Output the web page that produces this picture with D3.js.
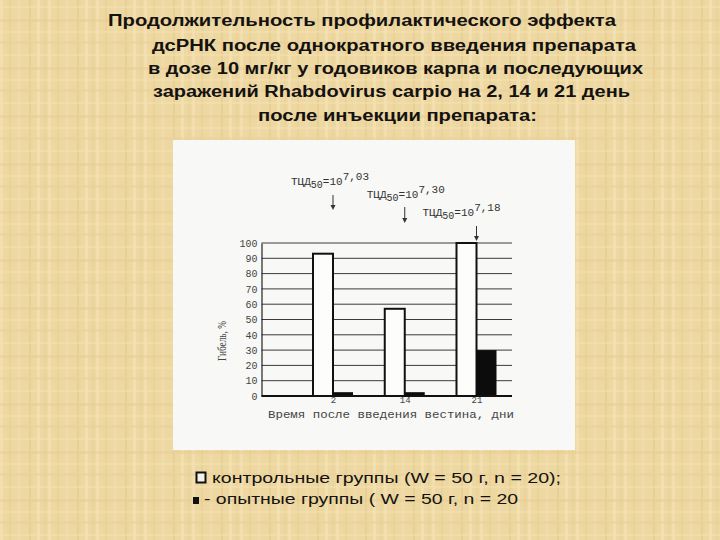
<!DOCTYPE html>
<html>
<head>
<meta charset="utf-8">
<script src="https://cdn.jsdelivr.net/npm/d3@7"></script>
<style>
  body { margin: 0; background: #eed8a2; }
  svg { display: block; }
</style>
</head>
<body>
<svg id="chart" width="720" height="540"></svg>
<script>

// data
const days = ["2", "14", "21"];
const control = [93, 57, 100];
const experimental = [2.5, 2.5, 30];
const tcdPower = ["7,03", "7,30", "7,18"];
const yTicks = [0, 10, 20, 30, 40, 50, 60, 70, 80, 90, 100];

const titleLines = [
	"Продолжительность профилактического эффекта",
	"дсРНК после однократного введения препарата",
	"в дозе 10 мг/кг у годовиков карпа и последующих",
	"заражений  Rhabdovirus carpio на 2, 14 и 21 день",
	"после инъекции препарата:"
];
const legendLines = [
	"контрольные группы (W = 50 г, n = 20);",
	"- опытные группы ( W = 50 г, n = 20"
];

const svg = d3.select("#chart");

// parchment background
const defs = svg.append("defs");
const pat = defs.append("pattern")
	.attr("id", "paper")
	.attr("width", 48)
	.attr("height", 48)
	.attr("patternUnits", "userSpaceOnUse");

pat.append("rect").attr("width", 48).attr("height", 48).attr("fill", "#eed8a2");

const streaks = [
	[0, 0, 3, 48, "#f5e4b8"], [9, 0, 2, 48, "#e6cb90"], [17, 0, 4, 48, "#f2deac"],
	[29, 0, 2, 48, "#e4c88c"], [37, 0, 3, 48, "#f6e6bc"], [44, 0, 2, 48, "#e9d09a"],
	[0, 6, 48, 2, "#f3e0b0"], [0, 19, 48, 3, "#e7cd94"], [0, 31, 48, 2, "#f4e2b4"],
	[0, 41, 48, 3, "#e8cf98"]
];
streaks.forEach(s => {
	pat.append("rect")
		.attr("x", s[0]).attr("y", s[1])
		.attr("width", s[2]).attr("height", s[3])
		.attr("fill", s[4])
		.attr("opacity", 0.55);
});

svg.append("rect")
	.attr("width", 720)
	.attr("height", 540)
	.attr("fill", "url(#paper)");

// title
const titleLayout = [
	{x: 108, y: 26, w: 508},
	{x: 152, y: 51, w: 484},
	{x: 148, y: 74, w: 495},
	{x: 153, y: 97, w: 477},
	{x: 258, y: 121, w: 279}
];

svg.append("g")
	.selectAll("text")
	.data(titleLines)
	.join("text")
	.attr("x", (d, i) => titleLayout[i].x)
	.attr("y", (d, i) => titleLayout[i].y)
	.attr("textLength", (d, i) => titleLayout[i].w)
	.attr("lengthAdjust", "spacingAndGlyphs")
	.attr("font-family", "'Liberation Sans', Arial, sans-serif")
	.attr("font-weight", "bold")
	.attr("font-size", 16)
	.attr("fill", "#141210")
	.text(d => d);

// white scan panel
svg.append("rect")
	.attr("x", 173)
	.attr("y", 140)
	.attr("width", 402)
	.attr("height", 310)
	.attr("fill", "#f8f8f6");

// chart
const plotLeft = 261.5, plotRight = 512, plotBottom = 396, plotTop = 243;

const x = d3.scalePoint()
	.domain(days)
	.range([333, 476.5]);

const y = d3.scaleLinear()
	.domain([0, 100])
	.range([plotBottom, plotTop]);

const barW = 20;
const mono = "'Liberation Mono', 'DejaVu Sans Mono', monospace";

const g = svg.append("g");

// gridlines
g.append("g")
	.selectAll("line")
	.data(yTicks.filter(d => d > 0))
	.join("line")
	.attr("x1", plotLeft)
	.attr("x2", plotRight)
	.attr("y1", d => y(d))
	.attr("y2", d => y(d))
	.attr("stroke", "#3a3a3a")
	.attr("stroke-width", 1);

// y axis
const yAxis = g.append("g")
	.attr("transform", `translate(${plotLeft},0)`)
	.call(d3.axisLeft(y).tickValues(yTicks).tickSize(0).tickPadding(4));

yAxis.select(".domain").attr("stroke", "#222").attr("stroke-width", 1.2);
yAxis.selectAll("text")
	.attr("font-family", mono)
	.attr("font-size", 10)
	.attr("fill", "#444");

// bars
g.append("g")
	.selectAll("rect")
	.data(days)
	.join("rect")
	.attr("x", d => x(d) - barW)
	.attr("y", (d, i) => y(control[i]))
	.attr("width", barW)
	.attr("height", (d, i) => plotBottom - y(control[i]))
	.attr("fill", "#fdfdfc")
	.attr("stroke", "#111")
	.attr("stroke-width", 2);

g.append("g")
	.selectAll("rect")
	.data(days)
	.join("rect")
	.attr("x", d => x(d))
	.attr("y", (d, i) => y(experimental[i]))
	.attr("width", barW)
	.attr("height", (d, i) => plotBottom - y(experimental[i]))
	.attr("fill", "#0c0c0c");

// x axis
const xAxis = g.append("g")
	.attr("transform", `translate(0,${plotBottom})`)
	.call(d3.axisBottom(x).tickSize(0).tickPadding(1));

xAxis.select(".domain")
	.attr("d", `M${plotLeft},0H${plotRight}`)
	.attr("stroke", "#111")
	.attr("stroke-width", 2);
xAxis.selectAll("text")
	.attr("font-family", mono)
	.attr("font-size", 9)
	.attr("fill", "#444");

// axis titles
g.append("text")
	.attr("x", 268)
	.attr("y", 418)
	.attr("textLength", 246)
	.attr("lengthAdjust", "spacingAndGlyphs")
	.attr("font-family", mono)
	.attr("font-size", 10)
	.attr("fill", "#444")
	.text("Время после введения вестина, дни");

g.append("text")
	.attr("transform", "translate(226,341) rotate(-90)")
	.attr("text-anchor", "middle")
	.attr("textLength", 40)
	.attr("lengthAdjust", "spacingAndGlyphs")
	.attr("font-family", "'Liberation Serif', serif")
	.attr("font-size", 12)
	.attr("fill", "#444")
	.text("Гибель, %");

// TCD50 annotations with arrows
const annoLayout = [
	{dx: -42, y: 185, a1: 195, a2: 210},
	{dx: -38, y: 198, a1: 207, a2: 223},
	{dx: -54, y: 216, a1: 226, a2: 241}
];

days.forEach((d, i) => {

	const L = annoLayout[i];
	const cx = x(d);

	const t = g.append("text")
		.attr("x", cx + L.dx)
		.attr("y", L.y)
		.attr("font-family", mono)
		.attr("font-size", 11)
		.attr("fill", "#333");

	t.append("tspan").text("ТЦД");
	t.append("tspan").attr("dy", 3).attr("font-size", 10).text("50");
	t.append("tspan").attr("dy", -3).text("=10");
	t.append("tspan").attr("dy", -5).attr("font-size", 11).text(tcdPower[i]);

	g.append("line")
		.attr("x1", cx).attr("x2", cx)
		.attr("y1", L.a1).attr("y2", L.a2 - 4)
		.attr("stroke", "#333")
		.attr("stroke-width", 1);

	g.append("path")
		.attr("d", `M${cx - 2.5},${L.a2 - 5} L${cx + 2.5},${L.a2 - 5} L${cx},${L.a2} Z`)
		.attr("fill", "#333");
});

// legend
const leg = svg.append("g");

leg.append("rect")
	.attr("x", 196.5)
	.attr("y", 472.5)
	.attr("width", 9)
	.attr("height", 10)
	.attr("fill", "#f6f2e6")
	.attr("stroke", "#111")
	.attr("stroke-width", 2);

leg.append("rect")
	.attr("x", 193)
	.attr("y", 497)
	.attr("width", 6)
	.attr("height", 7)
	.attr("fill", "#111");

const legLayout = [
	{x: 212, y: 483, w: 349},
	{x: 204, y: 504, w: 314}
];

leg.selectAll("text")
	.data(legendLines)
	.join("text")
	.attr("x", (d, i) => legLayout[i].x)
	.attr("y", (d, i) => legLayout[i].y)
	.attr("textLength", (d, i) => legLayout[i].w)
	.attr("lengthAdjust", "spacingAndGlyphs")
	.attr("font-family", "'Liberation Sans', Arial, sans-serif")
	.attr("font-size", 15)
	.attr("fill", "#141210")
	.text(d => d);

</script>
</body>
</html>
